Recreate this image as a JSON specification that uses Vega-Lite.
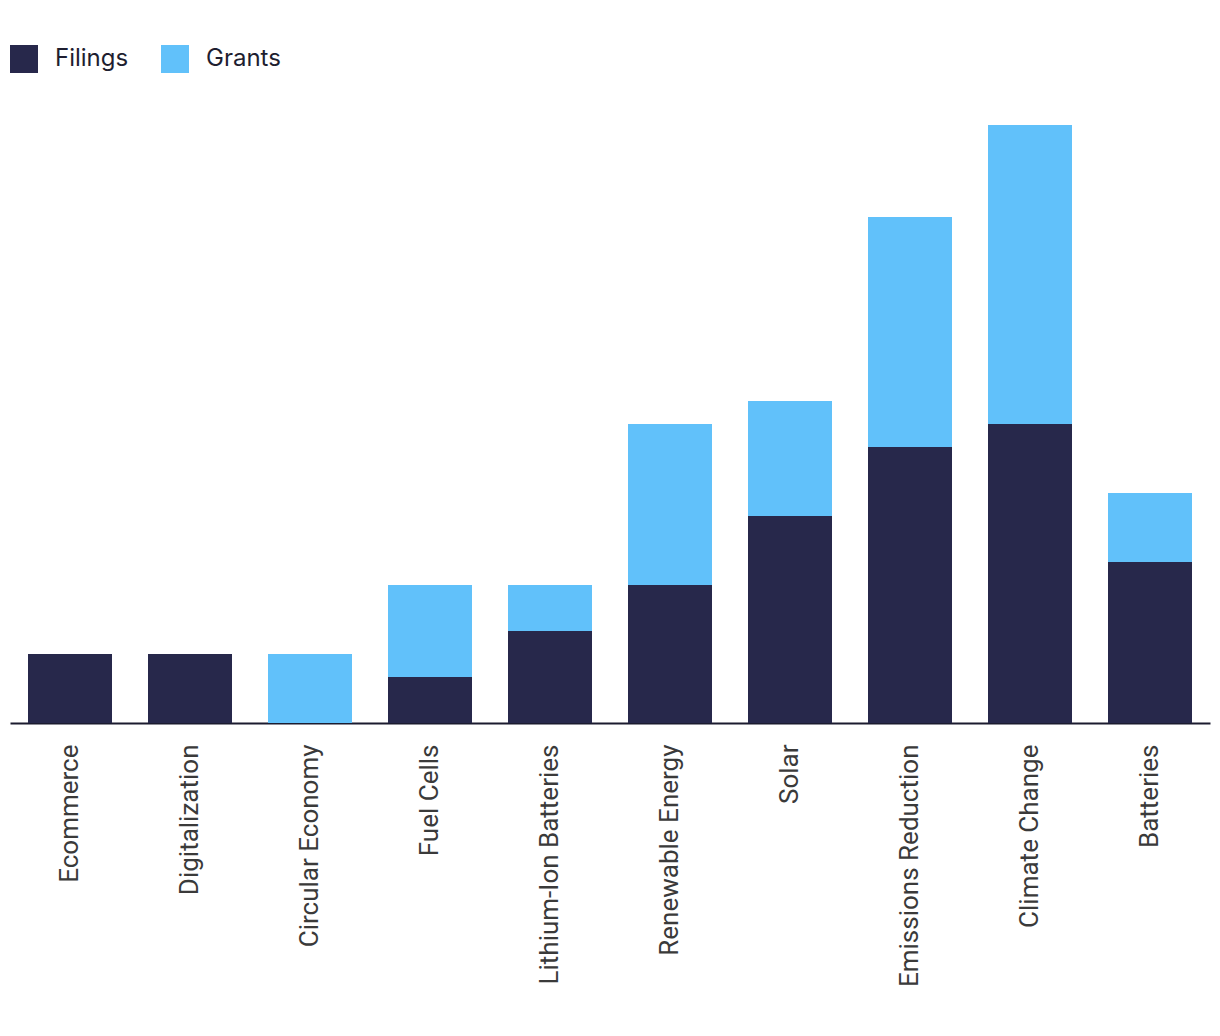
{
  "$schema": "https://vega.github.io/schema/vega-lite/v6.json",
  "autosize": {"type": "none"},
  "width": 1200,
  "height": 598,
  "padding": {"left": 10, "top": 125, "right": 10, "bottom": 313},
  "background": "white",
  "config": {"view": {"stroke": null}},
  "data": {
    "values": [
      {"category": "Ecommerce", "type": "Filings", "value": 3},
      {"category": "Digitalization", "type": "Filings", "value": 3},
      {"category": "Circular Economy", "type": "Grants", "value": 3},
      {"category": "Fuel Cells", "type": "Filings", "value": 2},
      {"category": "Fuel Cells", "type": "Grants", "value": 4},
      {"category": "Lithium-Ion Batteries", "type": "Filings", "value": 4},
      {"category": "Lithium-Ion Batteries", "type": "Grants", "value": 2},
      {"category": "Renewable Energy", "type": "Filings", "value": 6},
      {"category": "Renewable Energy", "type": "Grants", "value": 7},
      {"category": "Solar", "type": "Filings", "value": 9},
      {"category": "Solar", "type": "Grants", "value": 5},
      {"category": "Emissions Reduction", "type": "Filings", "value": 12},
      {"category": "Emissions Reduction", "type": "Grants", "value": 10},
      {"category": "Climate Change", "type": "Filings", "value": 13},
      {"category": "Climate Change", "type": "Grants", "value": 13},
      {"category": "Batteries", "type": "Filings", "value": 7},
      {"category": "Batteries", "type": "Grants", "value": 3}
    ]
  },
  "mark": {"type": "bar"},
  "encoding": {
    "x": {
      "field": "category",
      "type": "nominal",
      "sort": ["Ecommerce", "Digitalization", "Circular Economy", "Fuel Cells", "Lithium-Ion Batteries", "Renewable Energy", "Solar", "Emissions Reduction", "Climate Change", "Batteries"],
      "scale": {"paddingInner": 0.3, "paddingOuter": 0.15},
      "axis": {
        "title": null,
        "ticks": false,
        "domainColor": "#1b1b2f",
        "domainWidth": 2,
        "labelAngle": -90,
        "labelAlign": "right",
        "labelBaseline": "middle",
        "labelPadding": 21,
        "labelFont": "Roboto",
        "labelFontSize": 26,
        "labelColor": "#3a3a3a",
        "labelLimit": 400,
        "grid": false
      }
    },
    "y": {
      "field": "value",
      "type": "quantitative",
      "stack": "zero",
      "scale": {"domain": [0, 26], "nice": false},
      "axis": null
    },
    "color": {
      "field": "type",
      "type": "nominal",
      "scale": {"domain": ["Filings", "Grants"], "range": ["#27284b", "#61c1fa"]},
      "legend": {
        "title": null,
        "orient": "none",
        "legendX": 0,
        "legendY": -80,
        "direction": "horizontal",
        "symbolType": "square",
        "symbolSize": 784,
        "symbolStrokeWidth": 0,
        "labelFont": "Inter",
        "labelFontSize": 24,
        "labelColor": "#1e1e30",
        "labelOffset": 17,
        "columnPadding": 32
      }
    },
    "order": {"field": "type", "sort": "ascending"}
  }
}
